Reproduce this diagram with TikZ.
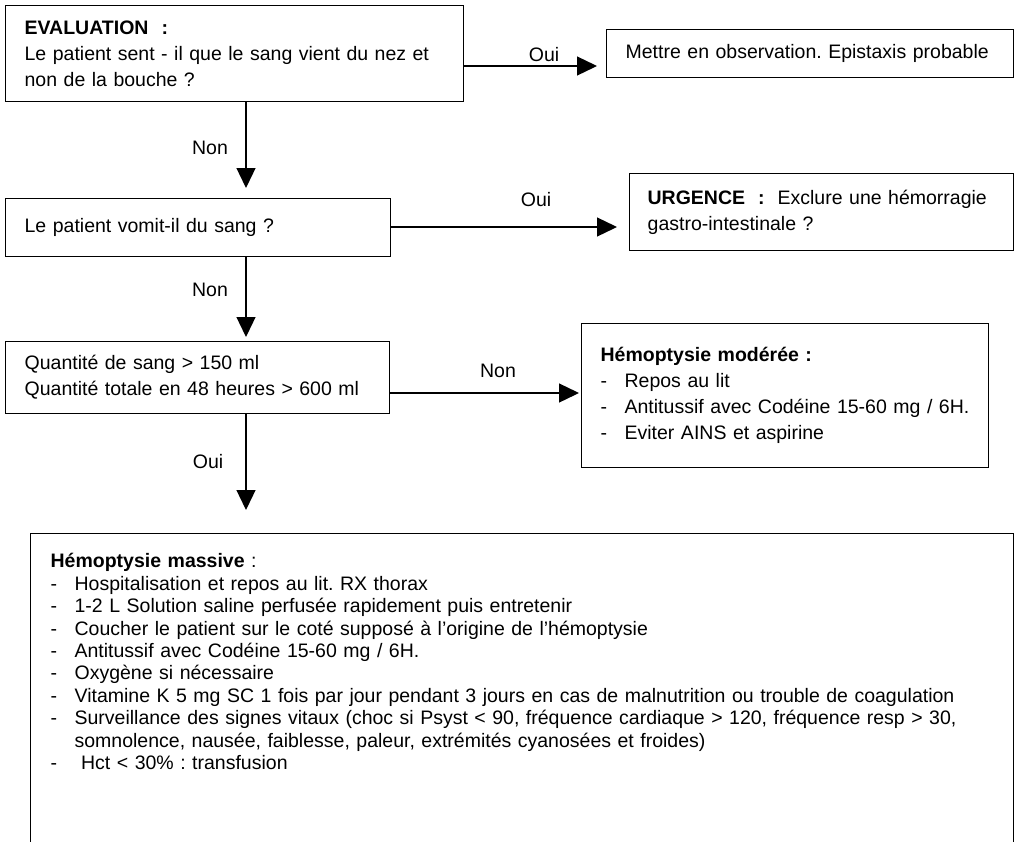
\documentclass[tikz,border=0pt]{standalone}
\usepackage{fontspec}
\setmainfont{Liberation Sans}
\usetikzlibrary{arrows.meta}
\frenchspacing
\newcommand{\tiret}{\makebox[24pt][l]{-}}
\tikzset{
    boite/.style={draw, line width=1.3pt, anchor=north west, align=left,
        inner xsep=19pt, inner ysep=0pt, font=\fontsize{19.5}{26}\selectfont},
    fleche/.style={line width=1.3pt, -{Triangle[length=20pt,width=19pt]}},
    etiq/.style={font=\fontsize{19.5}{26}\selectfont, inner sep=0pt}
}
\begin{document}
\begin{tikzpicture}[x=1pt, y=-1pt]
    \useasboundingbox (0,0) rectangle (1017,841);
    \node[boite, text width=420pt, minimum width=458pt, minimum height=96pt] (eval) at (5,5)
    {\textbf{EVALUATION\ \ :}\\Le patient sent - il que le sang vient du nez et\\non de la bouche ?};
    \node[boite, text width=369pt, minimum width=407pt, minimum height=48pt] (obs) at (606,29)
    {Mettre en observation. Epistaxis probable};
    \node[boite, text width=347pt, minimum width=385pt, minimum height=58pt] (vomit) at (5,198)
    {Le patient vomit-il du sang ?};
    \node[boite, inner xsep=18pt, text width=348pt, minimum width=384pt, minimum height=77pt] (urg) at (629,173)
    {\textbf{URGENCE\ \ :}\ \ Exclure une hémorragie\\gastro-intestinale ?};
    \node[boite, text width=346pt, minimum width=384pt, minimum height=72pt] (quant) at (5,341)
    {Quantité de sang > 150 ml\\Quantité totale en 48 heures > 600 ml};
    \node[boite, text width=369pt, minimum width=407pt, minimum height=144pt] (mod) at (581,323)
    {\textbf{Hémoptysie modérée :}\\\tiret Repos au lit\\\tiret Antitussif avec Codéine 15-60 mg / 6H.\\\tiret Eviter AINS et aspirine};
    \node[boite, inner xsep=20pt, inner ysep=20pt, text width=943pt, minimum width=983pt,
        text depth=290pt, font=\fontsize{19.5}{22.4}\selectfont] (massive) at (30,533)
    {\textbf{Hémoptysie massive} :\\
    \tiret Hospitalisation et repos au lit. RX thorax\\
    \tiret 1-2 L Solution saline perfusée rapidement puis entretenir\\
    \tiret Coucher le patient sur le coté supposé à l’origine de l’hémoptysie\\
    \tiret Antitussif avec Codéine 15-60 mg / 6H.\\
    \tiret Oxygène si nécessaire\\
    \tiret Vitamine K 5 mg SC 1 fois par jour pendant 3 jours en cas de malnutrition ou trouble de coagulation\\
    \tiret Surveillance des signes vitaux (choc si Psyst < 90, fréquence cardiaque > 120, fréquence resp > 30,\\
    \hspace*{24pt}somnolence, nausée, faiblesse, paleur, extrémités cyanosées et froides)\\
    \tiret\ Hct < 30\% : transfusion};
    \coordinate (col) at (246,0);
    \coordinate (h1) at (0,66);
    \coordinate (h2) at (0,227);
    \coordinate (h3) at (0,393);
    \draw[fleche, shorten >=9pt] (eval.east |- h1) -- (obs.west |- h1);
    \draw[fleche, shorten >=12pt] (vomit.east |- h2) -- (urg.west |- h2);
    \draw[fleche, shorten >=2pt] (quant.east |- h3) -- (mod.west |- h3);
    \draw[fleche, shorten >=10pt] (col |- eval.south) -- (col |- vomit.north);
    \draw[fleche, shorten >=4pt] (col |- vomit.south) -- (col |- quant.north);
    \draw[fleche, shorten >=23pt] (col |- quant.south) -- (col |- massive.north);
    \node[etiq] (oui1) at (544,55) {Oui};
    \node[etiq] (non1) at (210,148) {Non};
    \node[etiq] (oui2) at (536,200) {Oui};
    \node[etiq] (non2) at (210,290) {Non};
    \node[etiq] (non3) at (498,371) {Non};
    \node[etiq] (oui3) at (208,462) {Oui};
\end{tikzpicture}
\end{document}
